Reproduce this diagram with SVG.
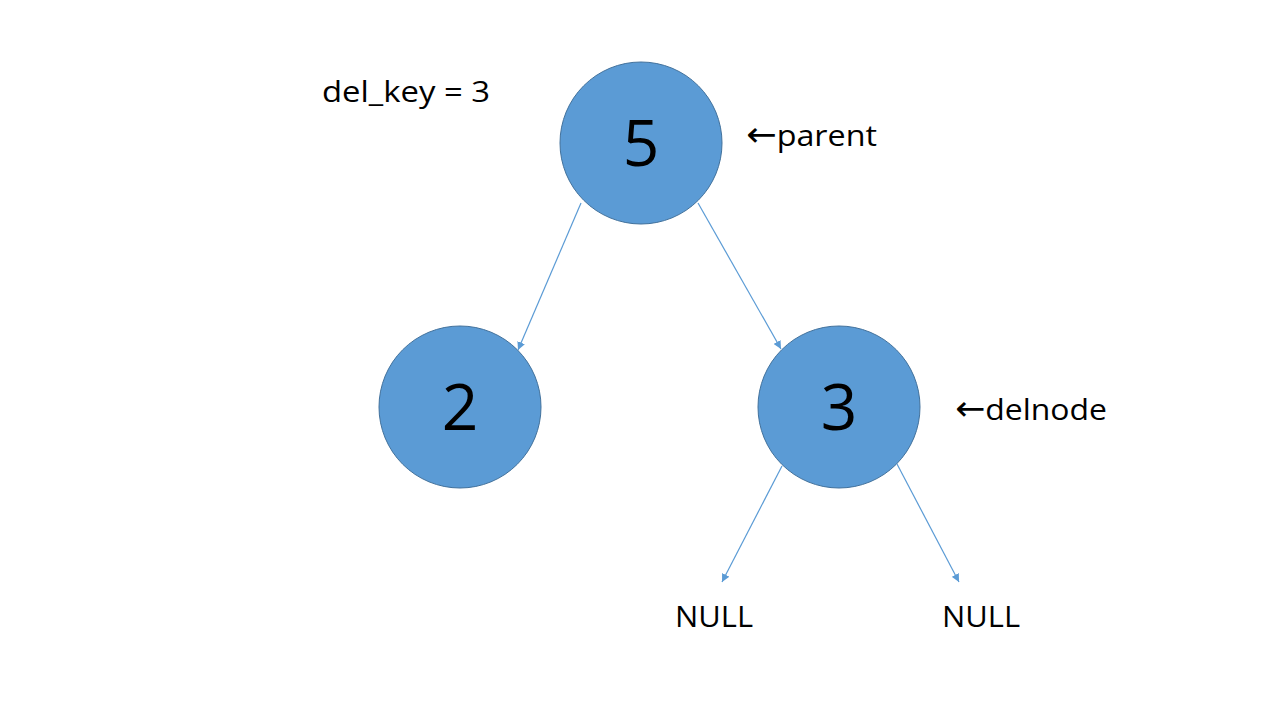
<svg xmlns="http://www.w3.org/2000/svg" width="1280" height="720" viewBox="0 0 1280 720">
<style>
.node{fill:#5B9BD5;stroke:#41719C;stroke-width:1}
.num{font-family:"Open Sans","Liberation Sans",sans-serif;font-size:64px;fill:#000;text-anchor:middle}
.lbl{font-family:"Open Sans","Liberation Sans",sans-serif;font-size:30px;fill:#000}
.ar{font-family:"DejaVu Sans",sans-serif;font-size:34px}
.edge{stroke:#5B9BD5;stroke-width:1.2;fill:none;marker-end:url(#arr)}
</style>
<defs>
<marker id="arr" viewBox="0 0 10 10" refX="10" refY="5" markerWidth="8" markerHeight="8" markerUnits="userSpaceOnUse" orient="auto">
<path d="M0,0 L10,5 L0,10 z" fill="#5B9BD5"/>
</marker>
</defs>
<rect width="1280" height="720" fill="#fff"/>
<g id="connectors">
<line class="edge" x1="581" y1="203" x2="518" y2="350"/>
<line class="edge" x1="698" y1="203" x2="781" y2="349"/>
<line class="edge" x1="782" y1="466" x2="722" y2="582"/>
<line class="edge" x1="897" y1="464" x2="959" y2="582"/>
</g>
<g id="node5">
<circle class="node" cx="641" cy="143" r="81"/>
<text class="num" x="641" y="166">5</text>
</g>
<g id="node2">
<circle class="node" cx="460" cy="407" r="81"/>
<text class="num" x="460" y="430">2</text>
</g>
<g id="node3">
<circle class="node" cx="839" cy="407" r="81"/>
<text class="num" x="839" y="430">3</text>
</g>
<g id="labels">
<text class="lbl" x="322" y="102" textLength="168" lengthAdjust="spacingAndGlyphs">del_key = 3</text>
<text class="lbl" x="746" y="146" textLength="131" lengthAdjust="spacingAndGlyphs"><tspan class="ar">←</tspan>parent</text>
<text class="lbl" x="955" y="420" textLength="152" lengthAdjust="spacingAndGlyphs"><tspan class="ar">←</tspan>delnode</text>
<text class="lbl" x="675" y="627" textLength="78" lengthAdjust="spacingAndGlyphs">NULL</text>
<text class="lbl" x="942" y="627" textLength="78" lengthAdjust="spacingAndGlyphs">NULL</text>
</g>
</svg>
